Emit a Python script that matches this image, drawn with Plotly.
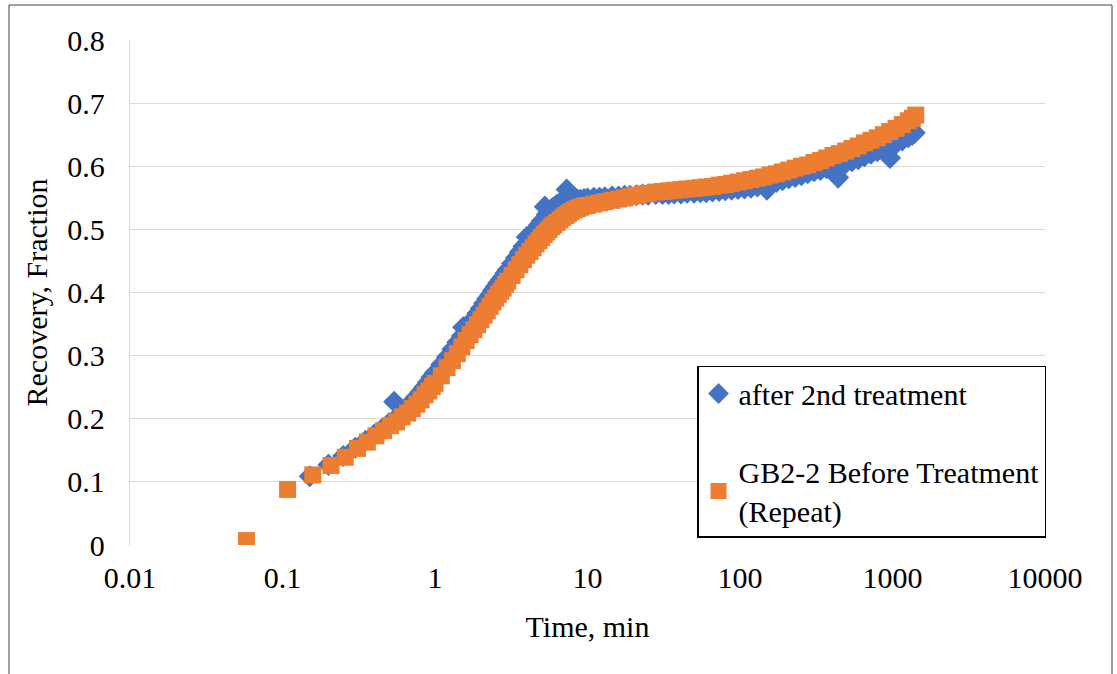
import plotly.graph_objects as go

# ---- data ----
# series 1: "after 2nd treatment" (blue diamonds)
t_after = [0.151, 0.2, 0.25, 0.3, 0.35, 0.4, 0.45, 0.5, 0.54, 0.6, 0.65, 0.7, 0.75, 0.8, 0.85,
           0.9, 0.95, 1.0,
           1.1, 1.2, 1.3, 1.4, 1.5, 1.53, 1.6, 1.7, 1.8, 1.9, 2.0, 2.1, 2.2, 2.3, 2.4, 2.5, 2.6,
           2.7, 2.8, 2.9, 3.0,
           3.2, 3.4, 3.6, 3.8, 4.0, 4.2, 4.4, 4.6, 4.8, 5.0, 5.25, 5.4, 5.6, 5.8, 6.0,
           6.3, 6.6, 6.9, 7.3, 7.5, 7.8, 8.2, 8.6, 9.0, 9.5, 10,
           11, 12, 13, 14.5, 16, 17.5, 19, 21, 23, 25, 28, 31, 34, 37, 41, 45, 50, 55, 60, 66,
           73, 80, 88, 97, 107, 118, 130, 143, 150, 157, 173, 190, 209, 230, 253, 278, 306,
           337, 370, 407, 440, 448, 493, 542, 596, 656, 722, 794, 873, 963, 1000, 1056, 1160,
           1270, 1350, 1400]
y_after = [0.109, 0.127, 0.141, 0.154, 0.165, 0.175, 0.184, 0.193, 0.227, 0.209, 0.217, 0.226,
           0.234, 0.242, 0.250, 0.258, 0.266, 0.273,
           0.286, 0.298, 0.310, 0.321, 0.331, 0.345, 0.341, 0.351, 0.359, 0.367, 0.375, 0.383,
           0.390, 0.396, 0.403, 0.409, 0.415, 0.420, 0.425, 0.431, 0.436,
           0.446, 0.455, 0.464, 0.473, 0.488, 0.487, 0.494, 0.501, 0.507, 0.513, 0.536, 0.523,
           0.528, 0.532, 0.535,
           0.539, 0.542, 0.544, 0.563, 0.545, 0.546, 0.546, 0.547, 0.547, 0.548, 0.549,
           0.550, 0.550, 0.551, 0.552, 0.552, 0.553, 0.553, 0.554, 0.555, 0.555, 0.556, 0.556,
           0.556, 0.557, 0.557, 0.558, 0.558, 0.559, 0.559, 0.560, 0.561, 0.562, 0.563, 0.564,
           0.565, 0.566, 0.568, 0.570, 0.563, 0.572, 0.575, 0.578, 0.581, 0.583, 0.586, 0.589,
           0.592, 0.594, 0.597, 0.599, 0.582, 0.602, 0.605, 0.608, 0.611, 0.616, 0.620, 0.624,
           0.628, 0.613, 0.634, 0.636, 0.641, 0.646, 0.650, 0.653]

# series 2: "GB2-2 Before Treatment (Repeat)" (orange squares)
t_before = [0.058, 0.108, 0.158, 0.208, 0.258, 0.31, 0.36, 0.41, 0.46, 0.51, 0.56, 0.61, 0.66,
            0.71, 0.76, 0.81, 0.86, 0.91, 0.96, 1.0,
            1.1, 1.2, 1.3, 1.4, 1.5, 1.6, 1.7, 1.8, 1.9, 2.0, 2.1, 2.2, 2.3, 2.4, 2.5, 2.6, 2.7,
            2.8, 2.9, 3.0,
            3.2, 3.4, 3.6, 3.8, 4.0, 4.2, 4.4, 4.6, 4.8, 5.0, 5.2, 5.4, 5.6, 5.8, 6.0,
            6.3, 6.6, 6.9, 7.2, 7.5, 7.8, 8.2, 8.6, 9.0, 9.5, 10,
            11, 12, 13, 14.5, 16, 17.5, 19, 21, 23, 25, 28, 31, 34, 37, 41, 45, 50, 55, 60, 66,
            73, 80, 88, 97, 107, 118, 130, 143, 157, 173, 190, 209, 230, 253, 278, 306, 337,
            370, 407, 448, 493, 542, 596, 656, 722, 794, 873, 960, 1056, 1160, 1270, 1350, 1420]
y_before = [0.007, 0.088, 0.111, 0.126, 0.139, 0.153, 0.163, 0.173, 0.181, 0.189, 0.195, 0.203,
            0.209, 0.216, 0.223, 0.230, 0.238, 0.244, 0.251, 0.256,
            0.268, 0.281, 0.292, 0.303, 0.314, 0.324, 0.333, 0.341, 0.349, 0.357, 0.364, 0.371,
            0.378, 0.385, 0.391, 0.397, 0.402, 0.407, 0.413, 0.418,
            0.427, 0.436, 0.444, 0.452, 0.459, 0.465, 0.471, 0.477, 0.482, 0.487, 0.492, 0.496,
            0.500, 0.504, 0.507,
            0.511, 0.515, 0.519, 0.522, 0.525, 0.528, 0.531, 0.533, 0.535, 0.537, 0.538,
            0.540, 0.542, 0.544, 0.546, 0.548, 0.550, 0.552, 0.554, 0.556, 0.557, 0.559, 0.560,
            0.561, 0.562, 0.563, 0.564, 0.565, 0.566, 0.567, 0.568, 0.570, 0.571, 0.573, 0.575,
            0.577, 0.579, 0.581, 0.583, 0.586, 0.588, 0.591, 0.594, 0.597, 0.600, 0.602, 0.606,
            0.609, 0.613, 0.617, 0.620, 0.624, 0.628, 0.632, 0.637, 0.641, 0.645, 0.650, 0.655,
            0.660, 0.666, 0.672, 0.676, 0.681]

x_tickvals = [0.01, 0.1, 1, 10, 100, 1000, 10000]
x_ticktext = ["0.01", "0.1", "1", "10", "100", "1000", "10000"]

FONT = "Liberation Serif, Times New Roman, serif"
FS = 30
tfont = dict(family=FONT, size=FS, color="black")

fig = go.Figure()
fig.add_trace(go.Scatter(
    x=t_after, y=y_after, mode="markers", name="after 2nd treatment",
    marker=dict(symbol="diamond", size=17, color="#4472C4", line=dict(width=0)),
    legendgroup="a",
))
fig.add_trace(go.Scatter(
    x=t_before, y=y_before, mode="markers", name="GB2-2 Before Treatment<br>(Repeat)",
    marker=dict(symbol="square", size=17, color="#ED7D31", line=dict(width=0)),
    legendgroup="b",
))

fig.update_layout(
    width=1117, height=674,
    margin=dict(l=130, r=72, t=40, b=129),
    paper_bgcolor="white", plot_bgcolor="white",
    font=tfont,
    showlegend=True,
    legend=dict(
        x=0.6197, y=0.3545, xanchor="left", yanchor="top",
        bgcolor="white", bordercolor="black", borderwidth=1.5,
        font=tfont,
        traceorder="grouped", tracegroupgap=36,
    ),
    xaxis=dict(
        type="log", range=[-2, 4],
        tickvals=x_tickvals, ticktext=x_ticktext, tickfont=tfont,
        showgrid=False, zeroline=False, showline=False,
        ticks="", ticklabelstandoff=12,
        title=dict(text="Time, min", standoff=22, font=tfont),
    ),
    yaxis=dict(
        range=[0, 0.8], dtick=0.1, tick0=0, tickfont=tfont,
        showgrid=True, gridcolor="#d9d9d9", gridwidth=1.3,
        zeroline=False, showline=True, linecolor="#d9d9d9", linewidth=1.3,
        ticks="", ticklabelstandoff=18,
        title=dict(text="Recovery, Fraction", standoff=10, font=tfont),
    ),
    shapes=[dict(
        type="rect", xref="paper", yref="paper",
        x0=(9 - 130) / 915, x1=(1112 - 130) / 915,
        y0=-0.3, y1=1 + 35 / 505,
        line=dict(color="#404040", width=1), fillcolor="rgba(0,0,0,0)", layer="below",
    )],
)

fig.write_html("out.html")
